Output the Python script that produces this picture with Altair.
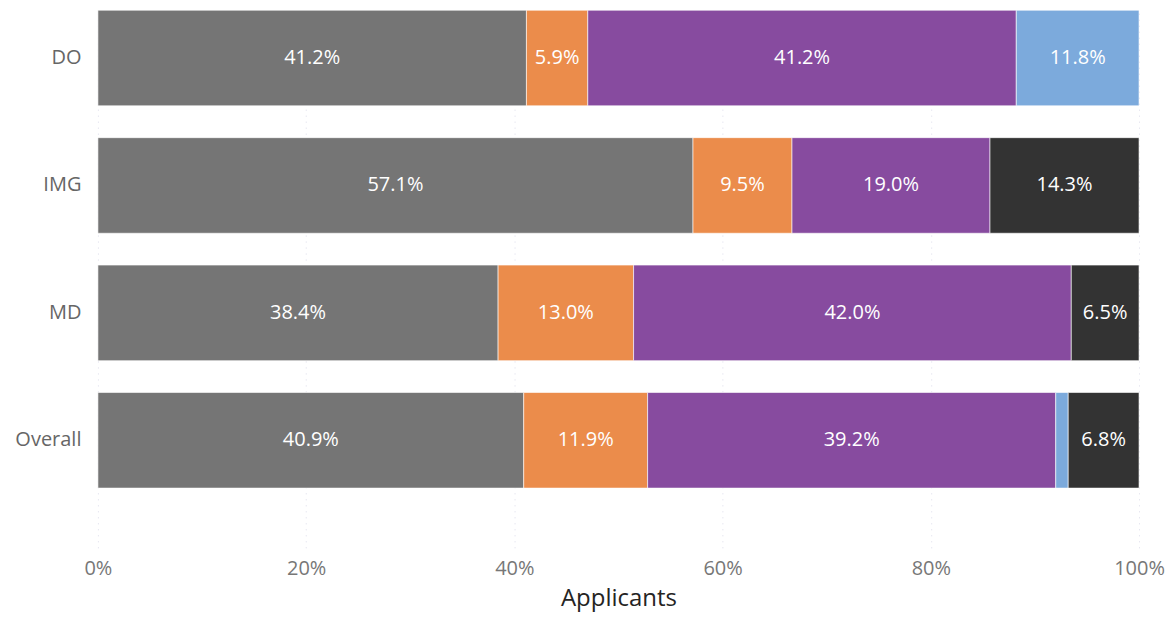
import altair as alt
import pandas as pd

groups = ["DO", "IMG", "MD", "Overall"]
categories = ["A", "B", "C", "D", "E"]
colors = ["#757575", "#EB8C4B", "#874B9F", "#7CAADC", "#333333"]

do_vals = [41.2, 5.9, 41.2, 11.8, 0.0]
img_vals = [57.1, 9.5, 19.0, 0.0, 14.3]
md_vals = [38.4, 13.0, 42.0, 0.0, 6.5]
overall_vals = [40.9, 11.9, 39.2, 1.2, 6.8]

rows = []
for g, vals in zip(groups, [do_vals, img_vals, md_vals, overall_vals]):
    for i, (c, v) in enumerate(zip(categories, vals)):
        if v > 0:
            rows.append({"group": g, "cat": c, "order": i, "value": v})
df = pd.DataFrame(rows)

font = "Open Sans"

base = alt.Chart(df).transform_stack(
    stack="value", groupby=["group"], sort=[alt.SortField("order")], as_=["v0", "v1"],
    offset="normalize"
).transform_calculate(
    mid="(datum.v0 + datum.v1) / 2",
    label="format(datum.value, '.1f') + '%'"
)

y_enc = alt.Y("group:N", sort=groups, title=None,
              scale=alt.Scale(paddingInner=0.25, paddingOuter=0.242, align=0.032),
              axis=alt.Axis(labelFont=font, labelFontSize=20, labelColor="#666666",
                            ticks=False, domain=False, labelPadding=17,
                            minExtent=90, maxExtent=90))

bars = base.mark_bar(stroke="#ffffff", strokeOpacity=0.6, strokeWidth=1).encode(
    x=alt.X("v0:Q", scale=alt.Scale(domain=[0, 1], nice=False),
            title="Applicants",
            axis=alt.Axis(format="%", values=[0, 0.2, 0.4, 0.6, 0.8, 1.0],
                          labelFont=font, labelFontSize=20, labelColor="#777777",
                          titleFont=font, titleFontSize=24, titleColor="#252423",
                          titleFontWeight="normal", titlePadding=8,
                          ticks=False, domain=False, labelPadding=11,
                          grid=True, gridColor="#dcdcea", gridDash=[1, 5],
                          gridWidth=1, labelFlush=False)),
    x2="v1:Q",
    y=y_enc,
    color=alt.Color("cat:N", scale=alt.Scale(domain=categories, range=colors), legend=None),
)

labels = base.transform_filter("datum.value > 2").mark_text(
    color="white", font=font, fontSize=20, align="center", baseline="middle"
).encode(
    x=alt.X("mid:Q"),
    y=alt.Y("group:N", sort=groups),
    text="label:N",
)

chart = alt.layer(bars, labels).properties(
    width=1042, height=540,
    padding={"left": 0, "top": 0, "right": 0, "bottom": 4},
    background="white"
).configure_view(stroke=None)

chart.save("out.html", embed_options={"renderer": "svg", "actions": False})
